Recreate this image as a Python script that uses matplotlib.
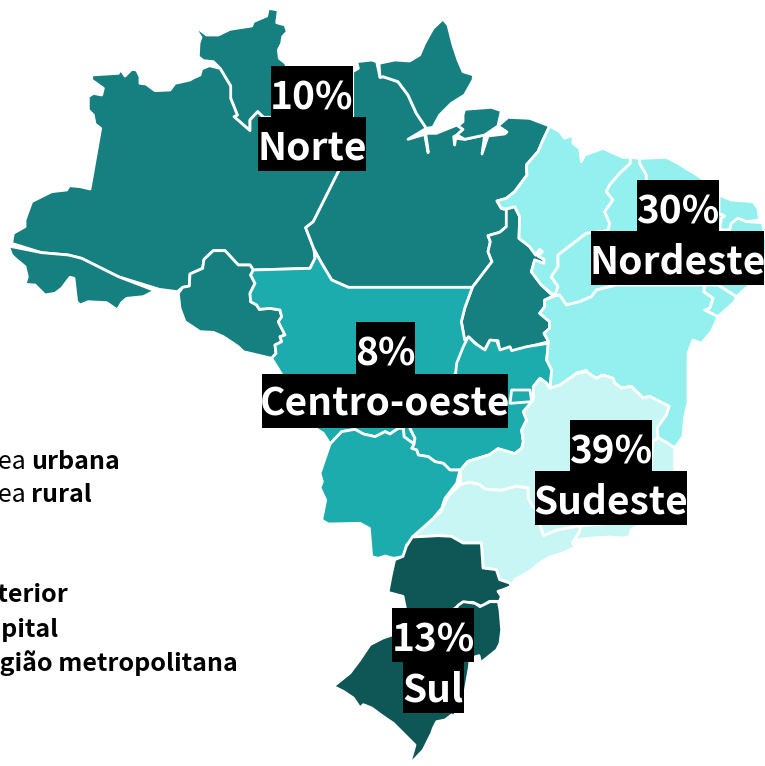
import matplotlib
matplotlib.use("Agg")
import matplotlib.pyplot as plt
from matplotlib.patches import Polygon, Rectangle

def crop(ox, oy, pts):
    return [(ox + x / 3, oy + y / 3) for x, y in pts]
def c1(p): return crop(0, 0, p)
def c2(p): return crop(383, 0, p)
def c3(p): return crop(0, 383, p)
def c4(p): return crop(383, 383, p)
def c5(p): return crop(440, 330, p)
def c6(p): return crop(260, 420, p)
def c7(p): return crop(380, 580, p)

NORTE, CENTRO, NORDESTE, SUDESTE, SUL = "#167f80", "#1cacad", "#94efef", "#c8f6f5", "#0f5756"

roraima = c1([(575,85),(600,90),(620,105),(655,105),(690,88),(755,78),(760,65),(800,48),(805,25),(835,30),(830,68),(855,75),(862,95),(848,110),(845,130),(835,150),(838,175),(857,190),(860,200),(830,230),(830,352),(790,352),(773,335),(750,360),(750,392),(702,350),(712,345),(692,295),(692,258),(660,205),(640,185),(610,182),(595,170),(597,130),(603,112),(590,92)])
amazonas = c1([(275,225),(355,220),(362,208),(375,228),(395,208),(410,210),(420,230),(420,250),(438,252),(465,272),(510,270),(525,250),(570,240),(578,235),(600,225),(605,207),(628,197),(660,205),(692,258),(692,295),(712,345),(702,350),(750,392),(750,360),(773,335),(790,352),(830,352),(1058,440),(1015,515),(940,665),(917,683),(942,748),(945,775),(930,805),(760,810),(750,795),(715,795),(675,752),(640,752),(612,778),(608,805),(570,822),(568,858),(548,862),(532,875),(478,868),(355,830),(245,775),(205,765),(125,758),(35,730),(40,700),(75,680),(75,660),(95,605),(155,575),(200,570),(208,557),(240,560),(270,567),(302,385),(285,372),(280,345),(265,330),(265,290),(280,280),(305,285),(310,265),(275,240)])
acre = c1([(25,738),(125,758),(205,765),(245,775),(355,830),(465,872),(430,890),(380,895),(365,908),(352,930),(320,908),(265,905),(240,915),(230,905),(222,835),(210,832),(185,865),(165,880),(135,885),(105,855),(75,853),(82,830),(75,800),(45,775),(35,765)])
rondonia = c1([(535,880),(548,862),(568,858),(570,822),(608,805),(612,778),(640,752),(675,752),(715,795),(750,795),(760,810),(752,825),(765,850),(750,880),(752,905),(770,915),(778,928),(810,925),(840,930),(845,950),(835,965),(855,1005),(840,1010),(845,1025),(825,1035),(828,1060),(815,1075),(730,1055),(715,1040),(670,1010),(640,997),(600,995),(555,965),(540,925)])
para = (c1([(1058,215),(1075,205),(1070,185),(1115,180),(1130,185),(1140,232)])
    + c2([(0,230),(45,245),(75,285),(100,340),(130,385),(75,418),(125,403),(135,458),(136,456),(128,400),(160,400),(222,375),(240,388),(222,405),(212,410),(215,435),(218,415),(245,418),(305,405),(297,462),(315,408),(365,402),(372,396),(345,378),(375,352),(440,355),(500,378),(480,420),(465,455),(430,495),(432,525),(395,575),(370,595),(342,603),(355,625),(370,630),(370,680),(350,697),(315,707),(322,725),(315,755),(327,785),(268,862)])
    + c1([(1045,862),(995,840),(965,790),(942,748),(917,683),(940,665),(1015,515),(1058,440)]))
amapa = c2([(-12,190),(35,180),(80,183),(110,165),(125,130),(150,85),(180,57),(195,75),(210,135),(225,180),(240,215),(272,225),(270,240),(245,285),(205,310),(170,345),(150,382),(130,385),(100,340),(75,285),(45,245),(0,230),(-9,232)])
marajo = c2([(240,345),(245,328),(325,322),(355,332),(345,378),(305,405),(245,418),(222,405),(240,388),(225,378),(240,365)])
tocantins = c2([(370,627),(395,620),(410,650),(408,715),(440,740),(458,765),(470,748),(478,755),(465,768),(483,778),(483,790),(455,780),(445,815),(475,855),(510,888),(485,900),(485,920),(470,940),(500,965),(500,985),(483,1000),(497,1025),(445,1038),(388,1053),(350,1050),(345,1022),(320,1022),(303,1052),(258,1012),(245,1020),(235,965),(245,925),(268,862),(327,785),(315,755),(322,725),(315,707),(350,697),(370,680)])

maranhao = c2([(500,378),(530,395),(545,415),(570,405),(570,430),(590,445),(595,485),(605,465),(660,445),(720,472),(742,472),(742,490),(710,520),(680,555),(670,575),(690,600),(665,635),(680,670),(675,692),(610,700),(525,765),(525,800),(505,830),(525,860),(515,888),(475,855),(445,815),(455,780),(483,790),(483,778),(465,768),(478,755),(470,748),(458,765),(440,740),(408,715),(410,650),(395,620),(370,627),(355,625),(342,603),(370,595),(395,575),(432,525),(430,495),(465,455),(480,420)])
piaui = c2([(742,472),(770,475),(770,490),(790,525),(790,540),(780,700),(700,855),(640,870),(625,890),(590,905),(550,915),(530,885),(515,888),(525,860),(505,830),(525,800),(525,765),(610,700),(675,692),(680,670),(665,635),(690,600),(670,575),(680,555),(710,520),(742,490)])
ceara = c2([(770,475),(850,472),(885,490),(950,530),(1008,585),(1008,640),(1025,648),(1015,655),(1010,690),(1000,850),(790,700),(790,540),(790,525),(770,490)])
rio_grande_norte = c2([(1008,585),(1045,600),(1110,605),(1125,625),(1130,660),(1090,665),(1065,655),(1045,670),(1040,690),(1010,690),(1015,655),(1025,648),(1008,640)])
paraiba_pernambuco = c2([(1010,690),(1040,690),(1045,670),(1065,655),(1090,665),(1138,668),(1150,720),(1143,855),(1100,855),(1060,890),(1005,855)])
alagoas_sergipe = c2([(1005,855),(1060,890),(1055,905),(1005,950),(965,930),(980,925),(990,895),(962,875),(965,855)])
bahia = (c5([(330,175),(335,120),(320,90),(325,40)])
    + c2([(497,1025),(483,1000),(500,985),(500,965),(470,940),(485,920),(485,900),(515,888),(530,885),(550,915),(590,905),(625,890),(640,870),(700,855),(965,855),(962,875),(990,895),(980,925),(965,930),(1005,950),(985,995),(955,1030),(930,1020),(915,1060),(915,1100)])
    + c4([(915,0),(915,60),(905,100),(900,160),(875,195),(850,178),(825,165),(822,135),(850,95),(858,70),(800,40),(780,45),(745,10),(715,15),(695,0)])
    + c2([(690,1135),(660,1125),(640,1135),(610,1115),(580,1120)])
    + c5([(440,122),(410,130),(360,165)]))

minas = (c5([(330,175),(360,165),(410,130),(440,122)])
    + c2([(580,1120),(610,1115),(640,1135),(660,1125),(690,1135)])
    + c4([(695,0),(715,15),(745,10),(780,45),(800,40),(858,70),(850,95),(822,135),(825,165),(810,175),(800,300),(700,420),(592,428),(520,442),(482,458),(470,425),(460,375),(450,372),(435,345),(435,315),(400,310),(355,322),(305,318),(290,305),(260,298),(232,305),(232,262),(255,235),(320,215),(345,197),(395,212)])
    + c5([(245,355),(250,335),(245,300),(260,270),(250,245),(280,210),(280,170),(300,145),(320,160)]))
espirito_santo = c4([(810,175),(825,165),(850,178),(875,195),(875,262),(860,340),(800,300)])
rio_janeiro = c4([(592,428),(700,420),(800,300),(860,340),(770,425),(745,440),(740,460),(720,465),(680,462),(630,465),(582,470),(578,492),(568,480),(590,445)])
sao_paulo = c4([(232,305),(260,298),(290,305),(305,318),(355,322),(400,310),(435,315),(435,345),(450,372),(460,375),(470,425),(482,458),(520,442),(592,428),(590,445),(568,480),(578,492),(540,510),(500,522),(470,540),(440,565),(395,590),(385,610),(380,600),(350,590),(340,560),(300,555),(295,480),(240,480),(205,460),(165,458),(130,460),(88,462),(130,425),(175,385),(195,340)])

mato_grosso = (c1([(760,810),(930,805),(945,775),(942,748),(965,790),(995,840),(1045,862)])
    + c2([(268,862),(245,925),(235,965),(245,1020),(258,1012),(240,1060),(225,1100),(222,1149)])
    + c6([(450,25),(465,55),(462,72),(432,50),(430,25),(415,25),(390,42),(375,35),(345,50),(310,42),(285,28),(245,35),(210,72),(190,40),(165,24)])
    + c1([(815,1075),(828,1060),(825,1035),(845,1025),(840,1010),(855,1005),(835,965),(845,950),(840,930),(810,925),(778,928),(770,915),(752,905),(750,880),(765,850),(752,825)]))
goias = (c5([(85,20),(105,40),(135,60),(150,30),(170,32),(180,60),(210,50),(215,62),(260,50),(325,40),(320,90),(335,120),(330,175),(320,160),(300,145),(280,170),(280,210),(250,245),(260,270),(245,300),(250,335),(245,355)])
    + c4([(395,212),(345,197),(320,215),(255,235),(232,262)])
    + c6([(600,150),(570,150),(550,130),(525,125),(505,110),(475,105),(470,90),(455,85),(462,72),(465,55),(450,25)])
    + c5([(47,130),(50,100),(70,50)]))
distrito_federal = c5([(215,180),(270,180),(275,215),(210,220)])
mato_grosso_sul = c6([(210,72),(245,35),(285,28),(310,42),(345,50),(375,35),(390,42),(415,25),(430,25),(432,50),(462,72),(455,85),(470,90),(475,105),(505,110),(525,125),(550,130),(570,150),(600,150),(590,190),(555,235),(545,265),(520,295),(470,345),(440,375),(430,410),(400,415),(375,408),(355,415),(335,410),(328,325),(300,310),(205,312),(185,300),(197,240),(180,203),(187,185),(180,160)])

parana = (c4([(88,462),(130,460),(165,458),(205,460),(240,480),(295,480),(300,555),(340,560),(350,590),(380,600),(385,610),(360,620),(345,625),(355,640),(350,655),(320,655),(295,670),(270,658),(240,658),(210,680),(70,690),(60,640),(15,628),(25,575),(35,530),(60,520),(70,490)]))
santa_catarina = c7([(235,75),(250,65),(285,70),(300,80),(330,65),(355,65),(360,90),(365,150),(360,190),(350,210),(300,250),(275,258),(300,240),(297,227),(280,232),(270,240),(36,165),(50,105),(215,105)])
rio_grande_sul = (c3([(1000,910),(1030,925),(1060,945),(1080,975),(1090,965),(1115,975),(1149,1000)])
    + c7([(40,430),(105,495),(88,555),(130,510),(155,460),(160,445),(170,425),(195,420),(215,405),(200,430),(228,400),(250,365),(268,262),(270,240),(36,165)])
    + c3([(1149,765),(1110,785),(1080,830),(1050,870)]))

regions = [
    (NORTE, [roraima, amazonas, acre, rondonia, para, amapa, marajo, tocantins]),
    (CENTRO, [mato_grosso, goias, distrito_federal, mato_grosso_sul]),
    (NORDESTE, [maranhao, piaui, ceara, rio_grande_norte, paraiba_pernambuco, alagoas_sergipe, bahia]),
    (SUDESTE, [minas, espirito_santo, rio_janeiro, sao_paulo]),
    (SUL, [parana, santa_catarina, rio_grande_sul]),
]

label_texts = ["10%", "Norte", "8%", "Centro-oeste", "30%", "Nordeste", "39%", "Sudeste", "13%", "Sul"]
label_boxes = [(271,66,353,117),(258,117,366,171),(356,322,415,374),(262,374,508,428),(637,180,719,231),
               (591,231,764,285),(570,420,652,471),(535,471,687,525),(392,608,474,662),(403,662,464,713)]
label_baselines = [109,160,366,416,223,274,464,514,652,702]

legend_regular = [("Área", 27, 469), ("Área", 27, 502)]
legend_bold_left = [("urbana", 31, 469), ("rural", 31, 502)]
legend_bold_right = [("Interior", 68.5, 602), ("Capital", 58.5, 637), ("Região metropolitana", 237.5, 670.5)]

plt.rcParams['font.family'] = ['Noto Sans CJK SC', 'DejaVu Sans']
fig = plt.figure(figsize=(7.65, 7.66), dpi=100)
ax = fig.add_axes([0, 0, 1, 1])
ax.set_xlim(0, 765); ax.set_ylim(766, 0); ax.axis('off')

for color, states in regions:
    for pts in states:
        ax.add_patch(Polygon(pts, closed=True, fc=color, ec='white', lw=2.0, joinstyle='round', zorder=2))

for txt, box, base in zip(label_texts, label_boxes, label_baselines):
    x0, y0, x1, y1 = box
    ax.add_patch(Rectangle((x0, y0), x1 - x0, y1 - y0, fc='black', ec='none', zorder=3))
    ax.text((x0 + x1) / 2, base, txt, color='white', fontsize=28, fontweight='bold',
            ha='center', va='baseline', zorder=4)

for t, x, y in legend_regular:
    ax.text(x, y, t, ha='right', va='baseline', fontsize=18, color='black')
for t, x, y in legend_bold_left:
    ax.text(x, y, t, ha='left', va='baseline', fontsize=18, fontweight='bold', color='black')
for t, x, y in legend_bold_right:
    ax.text(x, y, t, ha='right', va='baseline', fontsize=18, fontweight='bold', color='black')

fig.savefig('out.png', dpi=100)
